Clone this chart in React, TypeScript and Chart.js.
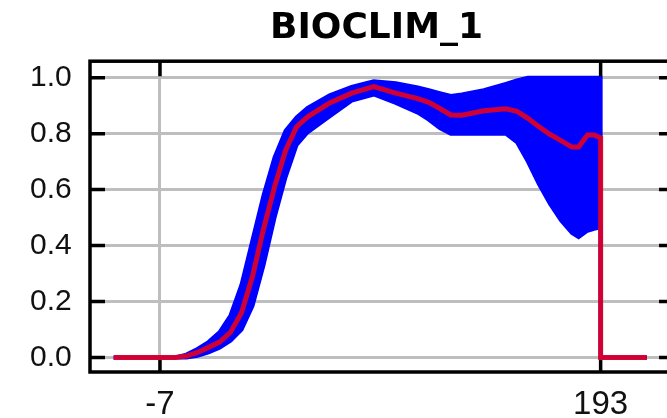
import React, { useEffect, useRef } from "react";
import { Chart, registerables } from "chart.js";

Chart.register(...registerables);

const TITLE = "BIOCLIM_1";
const X_TICKS = [-7, 193];
const Y_TICKS = [0, 0.2, 0.4, 0.6, 0.8, 1.0];

const X_VALUES = [-28, -20, -10, 0, 5, 10, 15, 20, 25, 30, 35, 40, 45, 50, 55, 60, 70, 80, 90, 100, 110, 115, 120, 125, 130, 140, 150, 155, 160, 165, 170, 175, 180, 183, 187, 190, 193, 193, 214];
const MEAN = [0, 0, 0, 0, 0.005, 0.018, 0.036, 0.055, 0.09, 0.16, 0.29, 0.46, 0.61, 0.74, 0.825, 0.86, 0.91, 0.945, 0.968, 0.945, 0.925, 0.912, 0.89, 0.867, 0.866, 0.882, 0.889, 0.88, 0.855, 0.825, 0.797, 0.775, 0.752, 0.752, 0.795, 0.795, 0.785, 0, 0];
const UPPER = [0, 0, 0, 0, 0.01, 0.03, 0.055, 0.09, 0.15, 0.26, 0.42, 0.58, 0.715, 0.81, 0.858, 0.892, 0.937, 0.967, 0.987, 0.98, 0.965, 0.955, 0.945, 0.935, 0.94, 0.955, 0.978, 0.99, 1.0, 1.0, 1.0, 1.0, 1.0, 1.0, 1.0, 1.0, 1.0, 0, 0];
const LOWER = [0, 0, 0, 0, 0, 0.006, 0.018, 0.035, 0.06, 0.1, 0.185, 0.33, 0.5, 0.645, 0.76, 0.805, 0.862, 0.918, 0.94, 0.91, 0.875, 0.85, 0.82, 0.8, 0.8, 0.8, 0.8, 0.77, 0.7, 0.62, 0.55, 0.49, 0.445, 0.43, 0.453, 0.46, 0.465, 0, 0];

const pts = (ys: number[]) => X_VALUES.map((x, i) => ({ x, y: ys[i] }));

const framePlugin = {
  id: "frame",
  afterDraw(chart: any) {
    const { ctx, chartArea, scales } = chart;
    const { left, right, top, bottom } = chartArea;
    const T = 15;
    ctx.save();
    ctx.strokeStyle = "#000";
    ctx.lineWidth = 3.5;
    ctx.beginPath();
    for (const v of Y_TICKS) {
      const py = scales.y.getPixelForValue(v);
      ctx.moveTo(left, py);
      ctx.lineTo(left + T, py);
      ctx.moveTo(right - T, py);
      ctx.lineTo(right, py);
    }
    for (const v of X_TICKS) {
      const px = scales.x.getPixelForValue(v);
      ctx.moveTo(px, top);
      ctx.lineTo(px, top + T);
      ctx.moveTo(px, bottom - 12);
      ctx.lineTo(px, bottom);
    }
    ctx.stroke();
    ctx.strokeRect(left, top, right - left, bottom - top);
    ctx.restore();
  },
};

export default function App() {
  const ref = useRef<HTMLCanvasElement | null>(null);
  useEffect(() => {
    if (!ref.current) return;
    const chart = new Chart(ref.current, {
      type: "line",
      data: {
        datasets: [
          {
            data: pts(MEAN),
            borderColor: "rgba(228,0,32,0.9)",
            borderWidth: 5,
            pointRadius: 0,
            fill: false,
          },
          {
            data: pts(UPPER),
            borderColor: "#0000ff",
            backgroundColor: "#0000ff",
            borderWidth: 4,
            pointRadius: 0,
            fill: "+1",
          },
          {
            data: pts(LOWER),
            borderColor: "#0000ff",
            backgroundColor: "#0000ff",
            borderWidth: 4,
            pointRadius: 0,
            fill: false,
          },
        ],
      },
      options: {
        animation: false,
        responsive: false,
        layout: { padding: { left: 79, right: 6, top: 0, bottom: 0 } },
        plugins: {
          legend: { display: false },
          tooltip: { enabled: false },
          title: {
            display: true,
            text: TITLE,
            color: "#000",
            font: { family: "DejaVu Sans", size: 36, weight: "bold" },
            padding: { top: 7, bottom: 11 },
          },
        },
        scales: {
          x: {
            type: "linear",
            min: -38.77,
            max: 226.3,
            afterBuildTicks: (axis: any) => {
              axis.ticks = X_TICKS.map((v) => ({ value: v }));
            },
            afterFit: (axis: any) => {
              axis.height = 46;
            },
            grid: { color: "#bebebe", lineWidth: 3, drawTicks: false },
            border: { display: false },
            ticks: {
              padding: 13,
              color: "#111",
              font: { family: "Liberation Sans", size: 33 },
              callback: (v: any) => String(v),
            },
          },
          y: {
            min: -0.052,
            max: 1.059,
            afterBuildTicks: (axis: any) => {
              axis.ticks = Y_TICKS.map((v) => ({ value: v }));
            },
            afterFit: (axis: any) => {
              axis.width = 11;
            },
            grid: { color: "#bebebe", lineWidth: 3, drawTicks: false },
            border: { display: false },
            ticks: {
              mirror: true,
              padding: -60,
              color: "#111",
              font: { family: "Liberation Sans", size: 30 },
              callback: (v: any) => Number(v).toFixed(1),
            },
          },
        },
      },
      plugins: [framePlugin],
    });
    return () => chart.destroy();
  }, []);
  return (
    <div style={{ position: "fixed", left: 0, top: 0, width: 680, height: 418, background: "#fff" }}>
      <canvas ref={ref} width={680} height={418} style={{ display: "block" }} />
    </div>
  );
}
